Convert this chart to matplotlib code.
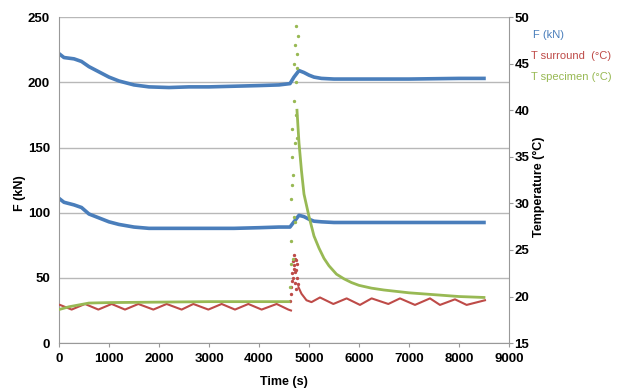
import matplotlib.pyplot as plt

plt.rcParams['font.family'] = ['Liberation Sans', 'DejaVu Sans']

# Load F (kN), two curves, same time base
t_force = [0, 100, 300, 450, 600, 800, 1000, 1200, 1500, 1800, 2200, 2600, 3000, 3500,
           4000, 4400, 4620, 4700, 4800, 4900, 5000, 5100, 5250, 5500, 6000, 7000, 8000, 8500]
f_upper = [222, 219, 218, 216, 212, 208, 204, 201, 198, 196.5, 196, 196.5, 196.5, 197,
           197.5, 198, 199, 204, 209, 207.5, 205.5, 204, 203, 202.5, 202.5, 202.5, 203, 203]
f_lower = [111, 108, 106, 104, 99, 96, 93, 91, 89, 88, 88, 88, 88, 88,
           88.5, 89, 89, 93, 98, 97, 95, 93.5, 93, 92.5, 92.5, 92.5, 92.5, 92.5]

# T surround (°C), before and after the event
t_surr_a = [20, 253, 520, 787, 1053, 1320, 1587, 1887, 2153, 2453, 2687, 2987, 3253, 3520,
            3787, 4053, 4353, 4587, 4640]
T_surr_a = [19.1, 18.6, 19.2, 18.6, 19.2, 18.6, 19.2, 18.6, 19.2, 18.6, 19.2, 18.6, 19.2, 18.6,
            19.2, 18.6, 19.2, 18.6, 18.5]
t_surr_b = [4790, 4850, 4950, 5050, 5220, 5487, 5753, 6020, 6253, 6587, 6820, 7120, 7420, 7620,
            7920, 8153, 8520]
T_surr_b = [21.0, 20.3, 19.6, 19.4, 19.9, 19.2, 19.8, 19.1, 19.8, 19.2, 19.8, 19.1, 19.8, 19.1,
            19.7, 19.1, 19.6]
t_surr_spike = [4630, 4640, 4650, 4660, 4670, 4680, 4690, 4700, 4705, 4710, 4720, 4725, 4730,
                4740, 4745, 4750, 4760, 4770, 4780]
T_surr_spike = [19.5, 20.3, 21.0, 22.5, 21.7, 23.8, 22.0, 24.5, 23.4, 23.0, 21.5, 22.6, 24.0,
                22.8, 23.9, 20.8, 23.5, 22.0, 21.3]

# T specimen (°C), before and after the event
t_spec_a = [0, 200, 400, 600, 1000, 2000, 3000, 4000, 4600]
T_spec_a = [18.6, 18.9, 19.1, 19.3, 19.35, 19.4, 19.45, 19.45, 19.45]
t_spec_b = [4760, 4800, 4850, 4900, 4950, 5000, 5100, 5200, 5300, 5400, 5550, 5700, 5850, 6000,
            6250, 6500, 7000, 7500, 8000, 8500]
T_spec_b = [40.0, 36.5, 33.5, 31.0, 29.8, 28.6, 26.5, 25.2, 24.1, 23.3, 22.4, 21.9, 21.5, 21.2,
            20.9, 20.7, 20.4, 20.2, 20.0, 19.9]
t_spec_spike = [4630, 4640, 4645, 4650, 4660, 4665, 4670, 4680, 4690, 4695, 4700, 4710, 4715,
                4720, 4730, 4735, 4740, 4750, 4755, 4760, 4770, 4775]
T_spec_spike = [21.0, 26.0, 23.5, 30.5, 35.0, 32.0, 38.0, 24.0, 33.0, 28.5, 41.0, 45.0, 36.5,
                28.0, 47.0, 39.5, 43.0, 49.0, 46.0, 37.0, 44.5, 48.0]

blue = '#4a7ebb'
red = '#be4b48'
green = '#98b954'

fig = plt.figure(figsize=(6.21, 3.89), dpi=100)
ax = fig.add_axes([0.095, 0.118, 0.7246, 0.838])
ax2 = ax.twinx()

ax.plot(t_force, f_upper, color=blue, lw=2.6)
ax.plot(t_force, f_lower, color=blue, lw=2.6)

ax2.plot(t_surr_a, T_surr_a, color=red, lw=1.5)
ax2.plot(t_surr_b, T_surr_b, color=red, lw=1.5)
ax2.plot(t_surr_spike, T_surr_spike, 'o', color=red, ms=1.4)
ax2.plot(t_spec_a, T_spec_a, color=green, lw=2.0)
ax2.plot(t_spec_b, T_spec_b, color=green, lw=2.0)
ax2.plot(t_spec_spike, T_spec_spike, 'o', color=green, ms=1.4)

ax.set_xlim(0, 9000)
ax.set_ylim(0, 250)
ax2.set_ylim(15, 50)
ax.set_xticks(range(0, 9001, 1000))
ax.set_yticks(range(0, 251, 50))
ax2.set_yticks(range(15, 51, 5))
ax.grid(axis='y', color='#b8b8b8', lw=1)
ax.set_axisbelow(True)

for a in (ax, ax2):
    for s in a.spines.values():
        s.set_color('#999999')
    a.spines['top'].set_visible(False)
ax.spines['right'].set_visible(False)
ax2.spines['left'].set_visible(False)
ax2.spines['bottom'].set_visible(False)

ax.tick_params(axis='y', length=0, pad=6.5, labelsize=9.5)
ax.tick_params(axis='x', length=3, color='#999999', pad=4, labelsize=9.5)
ax2.tick_params(axis='y', length=3, color='#999999', pad=1, labelsize=9.5)
for lab in ax.get_xticklabels() + ax.get_yticklabels() + ax2.get_yticklabels():
    lab.set_fontweight('bold')

ax.set_xlabel('Time (s)', fontweight='bold', fontsize=9)
ax.set_ylabel('F (kN)', fontweight='bold', fontsize=9)
ax2.set_ylabel('Temperature (°C)', fontweight='bold', fontsize=9)
ax.yaxis.set_label_coords(-0.073, 0.46)
ax.xaxis.set_label_coords(0.5, -0.1)
ax2.yaxis.set_label_coords(1.053, 0.48)

fig.text(533/621, 1 - 35/389, 'F (kN)', color=blue, fontsize=8, va='center')
fig.text(531/621, 1 - 56/389, 'T surround  (°C)', color=red, fontsize=8, va='center')
fig.text(531/621, 1 - 77/389, 'T specimen (°C)', color=green, fontsize=8, va='center')

fig.savefig('out.png', dpi=100)
